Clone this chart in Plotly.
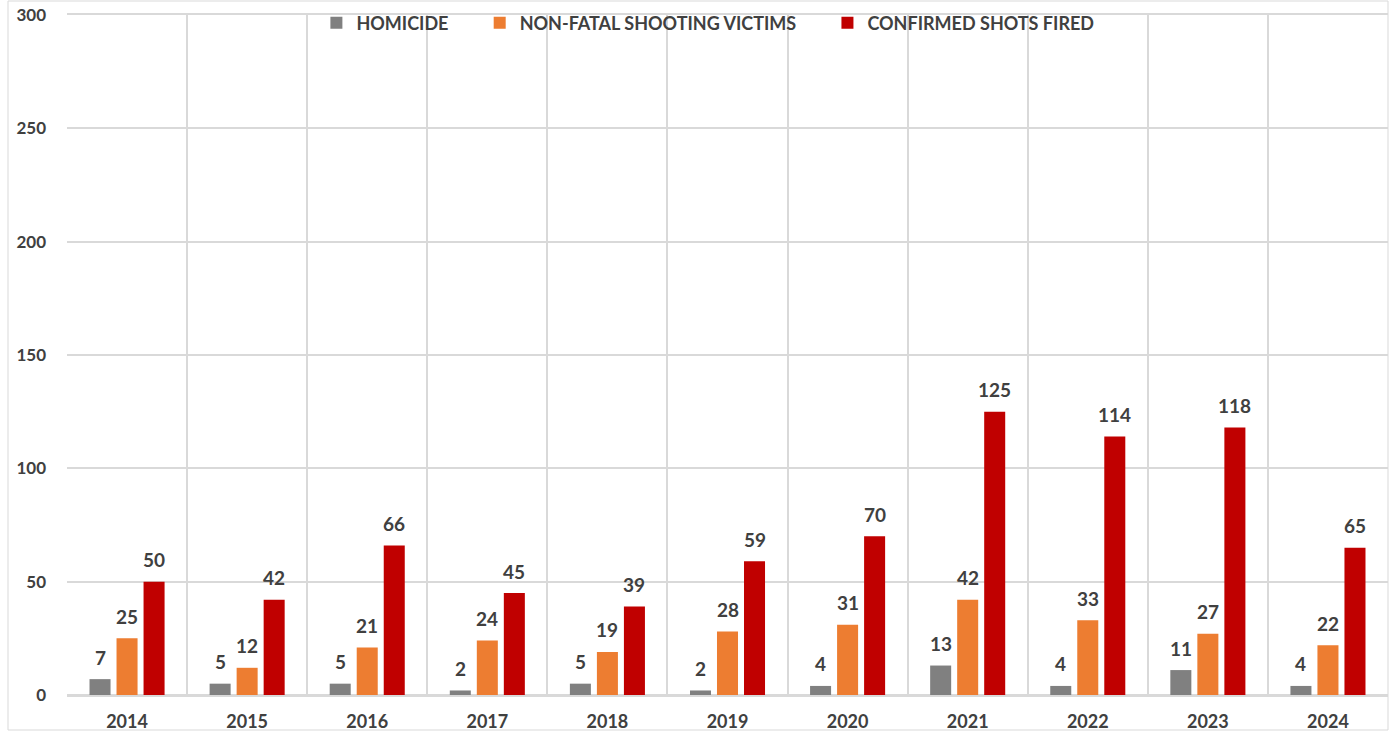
import plotly.graph_objects as go

years = ["2014", "2015", "2016", "2017", "2018", "2019", "2020", "2021", "2022", "2023", "2024"]
homicide = [7, 5, 5, 2, 5, 2, 4, 13, 4, 11, 4]
nonfatal = [25, 12, 21, 24, 19, 28, 31, 42, 33, 27, 22]
shots = [50, 42, 66, 45, 39, 59, 70, 125, 114, 118, 65]

series = [
    ("HOMICIDE", homicide, "#808080"),
    ("NON-FATAL SHOOTING VICTIMS", nonfatal, "#ED7D31"),
    ("CONFIRMED SHOTS FIRED", shots, "#C00000"),
]

FONT = "Lato"
TXT = "#404040"

W, H = 1389, 732
ml, mr, mt, mb = 67, 1, 15, 37
pw = W - ml - mr
ph = H - mt - mb

fig = go.Figure()
offsets = [-27, 0, 27]
for (name, vals, col), off in zip(series, offsets):
    fig.add_trace(go.Bar(
        x=years, y=vals, name=name + "\u00a0" * 6,
        marker=dict(color=col, line=dict(width=0)),
        hoverinfo="skip",
    ))
    # category index positions on the category axis
    for i, v in enumerate(vals):
        fig.add_annotation(
            x=i, y=v, xref="x", yref="y", text=str(v), showarrow=False,
            xshift=off, yshift=22, yanchor="middle", xanchor="center",
            font=dict(family=FONT, size=19, color=TXT, weight="bold"),
        )

fig.update_layout(
    width=W, height=H,
    margin=dict(l=ml, r=mr, t=mt, b=mb, autoexpand=False),
    paper_bgcolor="white", plot_bgcolor="white",
    barmode="group", bargap=0.325, bargroupgap=0.222,
    font=dict(family=FONT, color=TXT),
    showlegend=True,
    legend=dict(orientation="h", x=0.495, xanchor="center", y=0.988, yanchor="middle",
                font=dict(family=FONT, size=18, color=TXT, weight="bold"),
                itemwidth=30, traceorder="normal", bgcolor="rgba(0,0,0,0)"),
)
fig.update_xaxes(
    type="category", categoryorder="array", categoryarray=years,
    range=[-0.5, len(years) - 0.5],
    tickson="boundaries", showgrid=True, gridcolor="#D9D9D9", gridwidth=1.5,
    showline=True, linecolor="#D9D9D9", linewidth=1.5, ticks="",
    tickfont=dict(family=FONT, size=18, color=TXT, weight="bold"),
    ticklabelstandoff=10, mirror=True, automargin=False,
)
fig.update_yaxes(
    range=[0, 300], dtick=50, showgrid=True, gridcolor="#D9D9D9", gridwidth=1.5,
    zeroline=True, zerolinecolor="#D9D9D9", zerolinewidth=1.5,
    showline=False, ticks="",
    tickfont=dict(family=FONT, size=17, color=TXT, weight="bold"),
    ticklabelstandoff=20, automargin=False,
)
# outer chart frame
fig.add_shape(type="rect", xref="paper", yref="paper",
              x0=(8 - ml) / pw, x1=(W - 1 - ml) / pw,
              y0=-(730 - mt - ph) / ph, y1=1 + (mt - 1) / ph,
              line=dict(color="#D9D9D9", width=1), layer="below")

fig.write_html("out.html", config={"displayModeBar": False},
               post_script="document.body.style.margin='0';document.body.style.overflow='hidden';")
